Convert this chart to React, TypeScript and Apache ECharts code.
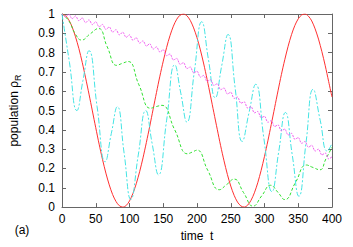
import React, { useEffect, useRef } from "react";
import * as echarts from "echarts";

const TIMES = [0,5,10,15,20,25,30,35,40,45,50,55,60,65,70,75,80,85,90,95,100,105,110,115,120,125,130,135,140,145,150,155,160,165,170,175,180,185,190,195,200,205,210,215,220,225,230,235,240,245,250,255,260,265,270,275,280,285,290,295,300,305,310,315,320,325,330,335,340,345,350,355,360,365,370,375,380,385,390,395,400];

const RED = [1.0,0.992,0.970,0.933,0.882,0.821,0.749,0.669,0.585,0.498,0.411,0.326,0.247,0.176,0.115,0.065,0.029,0.007,0.0,0.008,0.032,0.070,0.121,0.183,0.255,0.335,0.419,0.507,0.594,0.678,0.756,0.827,0.888,0.937,0.973,0.994,1.0,0.991,0.967,0.928,0.877,0.814,0.741,0.661,0.576,0.489,0.403,0.318,0.240,0.169,0.109,0.061,0.026,0.006,0.0,0.010,0.035,0.074,0.126,0.190,0.263,0.343,0.428,0.515,0.602,0.686,0.763,0.833,0.893,0.941,0.975,0.995,1.0,0.989,0.964,0.923,0.870,0.805,0.732,0.651,0.570];

const MAGENTA = [1.0,0.985,1.0,0.975,0.990,0.965,0.980,0.955,0.970,0.945,0.960,0.933,0.946,0.920,0.933,0.906,0.919,0.892,0.906,0.879,0.892,0.864,0.877,0.849,0.861,0.834,0.846,0.818,0.830,0.803,0.815,0.784,0.793,0.762,0.770,0.739,0.748,0.717,0.726,0.695,0.704,0.673,0.682,0.651,0.660,0.630,0.639,0.608,0.617,0.586,0.595,0.563,0.570,0.538,0.545,0.513,0.520,0.488,0.495,0.463,0.470,0.439,0.448,0.417,0.426,0.395,0.404,0.373,0.382,0.351,0.360,0.330,0.340,0.310,0.320,0.290,0.300,0.270,0.280,0.250,0.260];

const GREEN_T = [0,10,20,29,41,54,67,81,89,98,114,131,139,148,167,186,193,200,216,233,244,255,269,283,296,309,320,330,346,362,372,382,391,400];
const GREEN_V = [1.0,0.965,0.895,0.865,0.895,0.925,0.83,0.734,0.744,0.754,0.633,0.512,0.52,0.527,0.40,0.276,0.285,0.295,0.19,0.09,0.117,0.145,0.075,0.005,0.059,0.113,0.076,0.039,0.128,0.218,0.205,0.193,0.25,0.31];

const CYAN_T = [0,11,22,31,40,52,64,73,82,92,102,113,124,133.5,143,155,167,176,185,196,207,217,227,236.5,246,256.5,267,277,287,299,311,321,331,341,351,361.5,372,382.5,393,400];
const CYAN_V = [1.0,0.75,0.50,0.655,0.81,0.52,0.235,0.38,0.52,0.28,0.04,0.27,0.50,0.33,0.167,0.45,0.737,0.59,0.44,0.70,0.96,0.763,0.566,0.73,0.894,0.617,0.34,0.488,0.636,0.358,0.08,0.285,0.49,0.273,0.056,0.333,0.61,0.45,0.29,0.33];

const X_TICKS = ["0","50","100","150","200","250","300","350","400"];
const Y_TICKS = ["0","0.1","0.2","0.3","0.4","0.5","0.6","0.7","0.8","0.9","1"];

const FONT = "'Liberation Sans', Arial, Helvetica, sans-serif";

export default function App() {
  const ref = useRef<HTMLDivElement>(null);
  useEffect(() => {
    document.body.style.margin = "0";
    const chart = echarts.init(ref.current!, null, { renderer: "svg" });
    const frame = "#666";
    const tick = { show: true, inside: true, length: 4, lineStyle: { color: frame, width: 1 } };
    const line = { show: true, onZero: false, lineStyle: { color: frame, width: 1 } };
    const xFmt = (v: number) => X_TICKS[Math.round(v / 50)] ?? "";
    const yFmt = (v: number) => Y_TICKS[Math.round(v * 10)] ?? "";
    chart.setOption({
      animation: false,
      textStyle: { fontFamily: FONT },
      grid: { left: 62, right: 21, top: 14, bottom: 38 },
      xAxis: [
        {
          type: "value", min: 0, max: 400, interval: 50, position: "bottom",
          axisLine: line, axisTick: tick, splitLine: { show: false },
          axisLabel: { color: "#000", fontSize: 12, fontFamily: FONT, margin: 6, formatter: xFmt },
          name: "time  t", nameLocation: "middle", nameGap: 18,
          nameTextStyle: { color: "#000", fontSize: 12, fontFamily: FONT },
        },
        {
          type: "value", min: 0, max: 400, interval: 50, position: "top",
          axisLine: line, axisTick: tick, splitLine: { show: false }, axisLabel: { show: false },
        },
      ],
      yAxis: [
        {
          type: "value", min: 0, max: 1, interval: 0.1, position: "left",
          axisLine: line, axisTick: tick, splitLine: { show: false },
          axisLabel: { color: "#000", fontSize: 12, fontFamily: FONT, margin: 7, formatter: yFmt },
          name: "{a|population ρ}{b|R}", nameLocation: "middle", nameGap: 40,
          nameTextStyle: {
            color: "#000", fontSize: 12, fontFamily: FONT,
            rich: {
              a: { fontSize: 12, fontFamily: FONT, color: "#000", lineHeight: 16 },
              b: { fontSize: 9, fontFamily: FONT, color: "#000", lineHeight: 9, verticalAlign: "bottom" },
            },
          },
        },
        {
          type: "value", min: 0, max: 1, interval: 0.1, position: "right",
          axisLine: line, axisTick: tick, splitLine: { show: false }, axisLabel: { show: false },
        },
      ],
      graphic: [
        { type: "text", x: 22, y: 230, style: { text: "(a)", fill: "#000", font: `12px ${FONT}`, align: "center", verticalAlign: "middle" } },
      ],
      series: [
        {
          type: "line", xAxisIndex: 0, yAxisIndex: 0, showSymbol: false, smooth: 0.3,
          data: TIMES.map((t, i) => [t, RED[i]]),
          lineStyle: { color: "#ff3030", width: 1 },
        },
        {
          type: "line", xAxisIndex: 0, yAxisIndex: 0, showSymbol: false, smooth: 0.5,
          data: GREEN_T.map((t, i) => [t, GREEN_V[i]]),
          lineStyle: { color: "#33e033", width: 1, type: [3, 2] },
        },
        {
          type: "line", xAxisIndex: 0, yAxisIndex: 0, showSymbol: false, smooth: 0.5,
          data: CYAN_T.map((t, i) => [t, CYAN_V[i]]),
          lineStyle: { color: "#44e4e4", width: 1, type: [6, 2, 2, 2] },
        },
        {
          type: "line", xAxisIndex: 0, yAxisIndex: 0, showSymbol: false, smooth: 0.3,
          data: TIMES.map((t, i) => [t, MAGENTA[i]]),
          lineStyle: { color: "#f060f0", width: 1, type: [2, 1] },
        },
      ],
    });
    return () => chart.dispose();
  }, []);
  return <div ref={ref} style={{ width: 353, height: 247 }} />;
}
